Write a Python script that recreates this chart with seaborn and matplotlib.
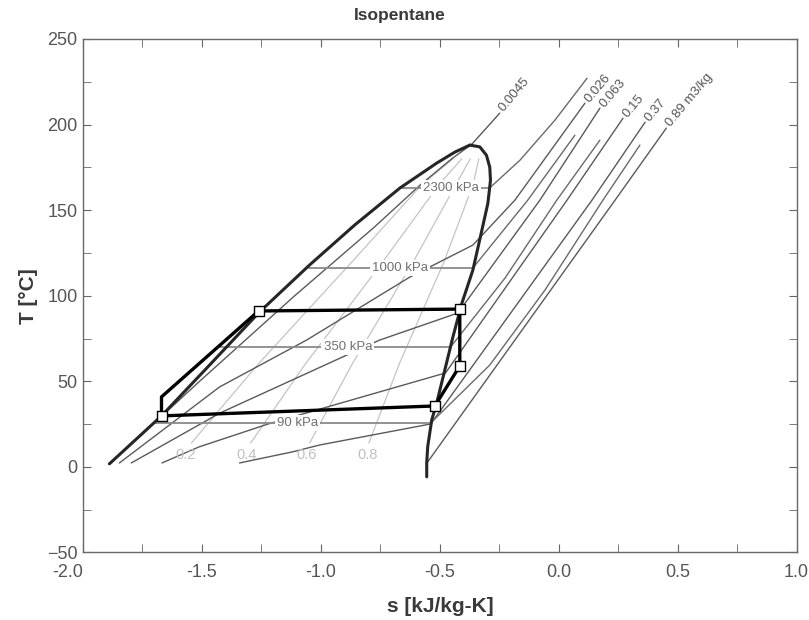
import matplotlib
matplotlib.use('Agg')
import matplotlib.pyplot as plt
import seaborn as sns

# Diagrama T-s del isopentano con el ciclo encima
# Todos los valores leidos a ojo de la figura original

# curva de saturacion (liquido y vapor)
liq_s = [-1.889, -1.670, -1.468, -1.258, -1.048, -0.858, -0.668, -0.513, -0.437, -0.374]
liq_T = [1.8, 29.8, 59.5, 90.5, 117.9, 141.3, 162.9, 177.5, 183.9, 188.0]
vap_s = [-0.374, -0.332, -0.304, -0.290, -0.287, -0.293, -0.298, -0.323, -0.361,
         -0.407, -0.445, -0.479, -0.513, -0.534, -0.551, -0.555, -0.555]
vap_T = [188.0, 187.0, 182.1, 175.1, 167.5, 160.0, 154.0, 138.4, 115.0,
         95.7, 75.9, 56.6, 37.4, 27.4, 11.7, 2.3, -5.8]

# lineas de titulo (calidad)
q_T = [14, 60, 120, 165, 180]
q02_s = [-1.544, -1.264, -0.868, -0.575, -0.444]
q04_s = [-1.295, -1.066, -0.739, -0.503, -0.408]
q06_s = [-1.047, -0.869, -0.611, -0.432, -0.372]
q08_s = [-0.798, -0.671, -0.482, -0.360, -0.336]
q_labels = ['0.2', '0.4', '0.6', '0.8']
q_label_s = [-1.569, -1.312, -1.059, -0.802]

# isobaras: tramo horizontal dentro de la campana + tramo sobrecalentado
p_labels = ['90 kPa', '350 kPa', '1000 kPa', '2300 kPa']
p_Tsat = [25.7, 70.0, 116.2, 162.9]
p_sliq = [-1.700, -1.425, -1.050, -0.668]
p_svap = [-0.536, -0.455, -0.359, -0.291]
p_label_s = [-1.098, -0.887, -0.668, -0.454]
p90_sup_s = [-0.538, -0.290, -0.058, 0.186, 0.341]
p90_sup_T = [25.7, 59.5, 103.3, 155.9, 188.0]
p350_sup_s = [-0.455, -0.226, -0.008, 0.173]
p350_sup_T = [70.0, 110.3, 155.9, 190.9]
p1000_sup_s = [-0.361, -0.130, 0.068]
p1000_sup_T = [116.2, 155.9, 193.8]
p2300_sup_s = [-0.291, -0.163, -0.016, 0.119]
p2300_sup_T = [162.9, 179.2, 202.6, 227.1]

# isocoras (m3/kg)
v0045_s = [-1.885, -1.510, -1.110, -0.776, -0.580, -0.450, -0.365, -0.248]
v0045_T = [2.0, 50.0, 100.0, 140.0, 165.0, 180.0, 188.6, 206.7]
v026_s = [-1.847, -1.426, -1.060, -0.626, -0.361, -0.184, 0.110]
v026_T = [2.3, 46.7, 74.1, 110.9, 129.6, 155.9, 212.5]
v063_s = [-1.797, -1.424, -0.753, -0.424, -0.079, 0.173]
v063_T = [2.3, 31.5, 74.1, 89.9, 155.9, 209.6]
v15_s = [-1.668, -1.512, -1.221, -0.476, 0.035, 0.270]
v15_T = [2.3, 11.7, 25.1, 54.9, 155.9, 203.7]
v37_s = [-1.342, -1.119, -1.005, -0.538, 0.140, 0.363]
v37_T = [2.3, 8.8, 12.8, 25.1, 155.9, 201.4]
v89_s = [-0.551, 0.237, 0.452]
v89_T = [2.9, 155.9, 197.9]
v_labels = ['0.0045', '0.026', '0.063', '0.15', '0.37', '0.89 m3/kg']

# ciclo
cyc_s = [-1.670, -1.670, -1.262, -0.416, -0.416, -0.521, -1.670]
cyc_T = [29.8, 40.9, 91.1, 92.2, 59.0, 35.6, 29.8]
mk_s = [-1.670, -1.262, -0.416, -0.416, -0.521]
mk_T = [29.8, 91.1, 92.2, 59.0, 35.6]

sns.set_style('ticks')
plt.rcParams['font.family'] = ['Liberation Sans', 'DejaVu Sans']

fig = plt.figure(figsize=(8.09, 6.2), dpi=100)
ax = fig.add_axes([0.1026, 0.1089, 0.8821, 0.8282])

lw_kw = dict(estimator=None, sort=False, legend=False, ax=ax)

# lineas de titulo (gris claro)
for qs in [q02_s, q04_s, q06_s, q08_s]:
    sns.lineplot(x=qs, y=q_T, color='#c4c4c4', linewidth=0.9, **lw_kw)
for lab, s in zip(q_labels, q_label_s):
    ax.text(s, 7, lab, color='#c0c0c0', fontsize=10.5, ha='center', va='center')

# isocoras
v_lines = [(v0045_s, v0045_T), (v026_s, v026_T), (v063_s, v063_T),
           (v15_s, v15_T), (v37_s, v37_T), (v89_s, v89_T)]
for (vs, vT), lab in zip(v_lines, v_labels):
    sns.lineplot(x=vs, y=vT, color='#5a5a5a', linewidth=1.0, **lw_kw)
    ax.text(vs[-1] + 0.008, vT[-1] + 1.5, lab, color='#555555', fontsize=9.5,
            rotation=50, rotation_mode='anchor', ha='left', va='center')

# isobaras
p_sup = [(p90_sup_s, p90_sup_T), (p350_sup_s, p350_sup_T),
         (p1000_sup_s, p1000_sup_T), (p2300_sup_s, p2300_sup_T)]
for i, lab in enumerate(p_labels):
    sns.lineplot(x=[p_sliq[i], p_svap[i]], y=[p_Tsat[i], p_Tsat[i]],
                 color='#8a8a8a', linewidth=1.3, **lw_kw)
    sns.lineplot(x=p_sup[i][0], y=p_sup[i][1], color='#6a6a6a', linewidth=1.0, **lw_kw)
    ax.text(p_label_s[i], p_Tsat[i], lab, color='#707070', fontsize=9.5,
            ha='center', va='center',
            bbox=dict(facecolor='white', edgecolor='none', pad=1.5))

# campana de saturacion
sns.lineplot(x=liq_s, y=liq_T, color='#262626', linewidth=2.2, **lw_kw)
sns.lineplot(x=vap_s, y=vap_T, color='#262626', linewidth=2.2, **lw_kw)

# ciclo
sns.lineplot(x=cyc_s, y=cyc_T, color='black', linewidth=2.4, **lw_kw)
sns.scatterplot(x=mk_s, y=mk_T, marker='s', s=60, color='white',
                edgecolor='black', linewidth=1.0, zorder=5, legend=False, ax=ax)

ax.set_xlim(-2.0, 1.0)
ax.set_ylim(-50, 250)
ax.set_xticks([-2.0, -1.5, -1.0, -0.5, 0.0, 0.5, 1.0])
ax.set_xticks([-1.75, -1.25, -0.75, -0.25, 0.25, 0.75], minor=True)
ax.set_yticks([-50, 0, 50, 100, 150, 200, 250])
ax.set_yticks([-25, 25, 75, 125, 175, 225], minor=True)
ax.set_xticklabels(['-2.0', '-1.5', '-1.0', '-0.5', '0.0', '0.5', '1.0'])
ax.tick_params(which='both', direction='in', top=True, right=True,
               color='#666666', labelcolor='#555555', labelsize=13, length=6)
ax.tick_params(axis='x', pad=8)
ax.tick_params(axis='y', pad=4)
# la etiqueta -2.0 queda bajo el -50, alineada a la derecha del eje
ax.get_xticklabels()[0].set_horizontalalignment('right')
for sp in ax.spines.values():
    sp.set_color('#6a6a6a')
    sp.set_linewidth(1.0)

ax.set_xlabel('s [kJ/kg-K]', fontsize=15, fontweight='bold', color='#3a3a3a', labelpad=12)
ax.set_ylabel('T [°C]', fontsize=15, fontweight='bold', color='#3a3a3a', labelpad=6)
ax.set_title('Isopentane', fontsize=12.5, fontweight='bold', color='#3a3a3a',
             x=0.444, pad=14)

fig.savefig('out.png', dpi=100)
